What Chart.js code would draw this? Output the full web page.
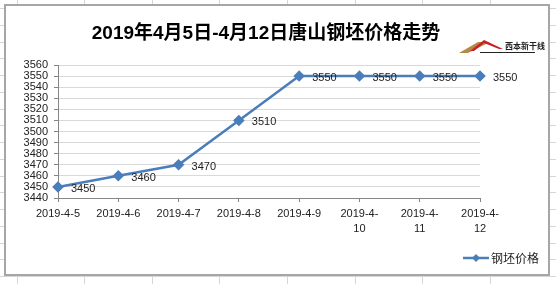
<!DOCTYPE html>
<html>
<head>
<meta charset="utf-8">
<script src="https://cdn.jsdelivr.net/npm/chart.js@4.4.1/dist/chart.umd.min.js"></script>
<style>
html,body{margin:0;padding:0;background:#fff;}
#c{display:block;}
</style>
</head>
<body>
<canvas id="c" width="556" height="284"></canvas>
<script>
// ---- data ----
const categories = ['2019-4-5','2019-4-6','2019-4-7','2019-4-8','2019-4-9','2019-4-10','2019-4-11','2019-4-12'];
const prices = [3450,3460,3470,3510,3550,3550,3550,3550];
const seriesName = '钢坯价格';
const titleText = '2019年4月5日-4月12日唐山钢坯价格走势';
const yMin = 3440, yMax = 3560, yStep = 10;

const FONT = '"Liberation Sans", "Noto Sans CJK SC", sans-serif';
const BLUE = '#4a7ebb';

const decor = {
  id: 'decor',
  beforeDraw(chart) {
    const ctx = chart.ctx;
    ctx.save();
    ctx.fillStyle = '#fff';
    ctx.fillRect(0,0,556,284);
    // spreadsheet grid
    ctx.strokeStyle = '#d6d6d6';
    ctx.lineWidth = 1;
    ctx.beginPath();
    for (let x = 16.5; x < 560; x += 67.6) { ctx.moveTo(Math.round(x)+0.5,0); ctx.lineTo(Math.round(x)+0.5,284); }
    for (let y = 8; y < 290; y += 16.75) { ctx.moveTo(0,Math.round(y)+0.5); ctx.lineTo(556,Math.round(y)+0.5); }
    ctx.stroke();
    // chart frame
    ctx.fillStyle = '#fff';
    ctx.fillRect(5,5,544,270);
    ctx.strokeStyle = '#a6a6a6';
    ctx.lineWidth = 2;
    ctx.strokeRect(5,5,544,270);
    ctx.restore();
  },
  afterDraw(chart) {
    const ctx = chart.ctx;
    ctx.save();
    // title
    ctx.fillStyle = '#000';
    ctx.font = 'bold 19px ' + FONT;
    ctx.textAlign = 'center';
    ctx.textBaseline = 'middle';
    ctx.fillText(titleText, 266, 34);
    // logo
    ctx.fillStyle = '#b8874a';
    ctx.beginPath();
    ctx.moveTo(459,53); ctx.lineTo(478,42); ctx.lineTo(490,42); ctx.lineTo(468,53); ctx.closePath(); ctx.fill();
    ctx.fillStyle = '#c8202a';
    ctx.beginPath();
    ctx.moveTo(470,51); ctx.lineTo(484,40); ctx.lineTo(503,49); ctx.lineTo(499,49); ctx.lineTo(484,43); ctx.lineTo(474,51); ctx.closePath(); ctx.fill();
    ctx.fillStyle = '#222';
    ctx.font = 'bold 8px "Noto Sans CJK SC", sans-serif';
    ctx.textAlign = 'left';
    ctx.fillText('西本新干线', 505, 46);
    ctx.fillRect(480,52,55,1);
    // data labels
    const meta = chart.getDatasetMeta(0);
    ctx.font = '11px ' + FONT;
    ctx.fillStyle = '#222';
    ctx.textAlign = 'left';
    ctx.textBaseline = 'middle';
    meta.data.forEach((pt, i) => {
      ctx.fillText(String(prices[i]), pt.x + 13, pt.y + 2);
    });
    // legend
    const ly = 258;
    ctx.strokeStyle = BLUE;
    ctx.lineWidth = 2.5;
    ctx.beginPath(); ctx.moveTo(463, ly); ctx.lineTo(489, ly); ctx.stroke();
    ctx.fillStyle = BLUE;
    ctx.beginPath();
    ctx.moveTo(476, ly-4); ctx.lineTo(480, ly); ctx.lineTo(476, ly+4); ctx.lineTo(472, ly); ctx.closePath(); ctx.fill();
    ctx.fillStyle = '#222';
    ctx.font = '12px "Noto Sans CJK SC", sans-serif';
    ctx.fillText(seriesName, 491, ly);
    ctx.restore();
  }
};

new Chart(document.getElementById('c'), {
  type: 'line',
  data: {
    labels: categories,
    datasets: [{
      label: seriesName,
      data: prices,
      borderColor: BLUE,
      backgroundColor: BLUE,
      borderWidth: 2.5,
      pointStyle: 'rectRot',
      pointRadius: 4,
      pointBackgroundColor: BLUE,
      pointBorderColor: BLUE,
      tension: 0
    }]
  },
  plugins: [decor],
  options: {
    responsive: false,
    animation: false,
    devicePixelRatio: 1,
    layout: { padding: { top: 65, left: 0, right: 76, bottom: 46 } },
    plugins: { legend: { display: false }, title: { display: false }, tooltip: { enabled: false } },
    scales: {
      x: {
        offset: false,
        grid: { drawOnChartArea: false, drawTicks: true, tickLength: 4, color: '#868686' },
        border: { display: true, color: '#868686' },
        ticks: {
          autoSkip: false, maxRotation: 0, minRotation: 0, padding: 5,
          color: '#222', font: { family: FONT, size: 11, lineHeight: 1.35 },
          callback(v) { const s = categories[v]; return s.length > 8 ? [s.slice(0, 7), s.slice(7)] : s; }
        },
        afterFit(s) { s.height = 40; }
      },
      y: {
        min: yMin, max: yMax,
        grid: { color: '#d9d9d9', tickLength: 4, tickColor: '#868686' },
        border: { display: true, color: '#868686' },
        ticks: { stepSize: yStep, padding: 6, color: '#222', font: { family: FONT, size: 11 }, autoSkip: false,
          callback(v) { return String(v); } },
        afterFit(s) { s.width = 58; }
      }
    }
  }
});
</script>
</body>
</html>
